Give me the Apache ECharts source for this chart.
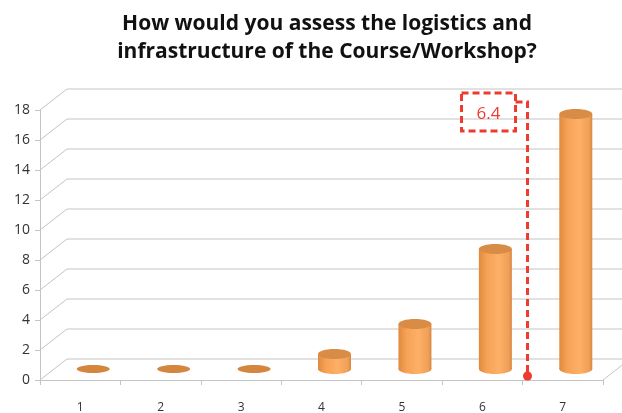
<!DOCTYPE html>
<html>
<head>
<meta charset="utf-8">
<script src="https://cdn.jsdelivr.net/npm/echarts@6/dist/echarts.min.js"></script>
<style>
  html, body { margin: 0; padding: 0; background: #ffffff; }
  #chart { width: 622px; height: 413px; }
</style>
</head>
<body>
<div id="chart"></div>
<script>
// Ratings 1..7 and how many responses each got
const categories = ['1', '2', '3', '4', '5', '6', '7'];
const counts = [0, 0, 0, 1, 3, 8, 17];
const yTicks = [0, 2, 4, 6, 8, 10, 12, 14, 16, 18];
const meanScore = 6.4;

// depth of the 3D box (back wall offset) and of the bar plane
const BACK = { dx: 27, dy: -21 };
const MID = { dx: 13, dy: -11 };
const BAR_W = 33;
const RY = 5;
const WALL = '#c4c4c4';
const RED = '#ee3b2f';

const chart = echarts.init(document.getElementById('chart'), null, { renderer: 'canvas' });

function frameItem(params, api) {
  const v = api.value(1);
  const cs = params.coordSys;
  const p = api.coord([0, v]);
  const x0 = cs.x;
  const y = p[1];
  const children = [{
    type: 'polyline',
    shape: { points: [[x0, y], [x0 + BACK.dx, y + BACK.dy], [cs.x + cs.width + BACK.dx + 20, y + BACK.dy]] },
    style: { stroke: WALL, lineWidth: 1, fill: null }
  }];
  if (v === 0) {
    children.push({
      type: 'line',
      shape: { x1: cs.x + cs.width, y1: y, x2: cs.x + cs.width + BACK.dx, y2: y + BACK.dy },
      style: { stroke: WALL, lineWidth: 1 }
    });
  }
  return { type: 'group', children };
}

function barItem(params, api) {
  const i = api.value(0);
  const v = api.value(1);
  const top = api.coord([i, v]);
  const base = api.coord([i, 0]);
  const cx = base[0] + MID.dx;
  const yb = base[1] + MID.dy;
  const yt = top[1] + MID.dy;
  const rx = BAR_W / 2;
  if (v === 0) {
    return {
      type: 'ellipse',
      shape: { cx: cx, cy: yb, rx: rx, ry: RY - 1 },
      style: { fill: '#d4863f' }
    };
  }
  const bodyFill = new echarts.graphic.LinearGradient(0, 0, 1, 0, [
    { offset: 0, color: '#e08a3e' },
    { offset: 0.25, color: '#f6a257' },
    { offset: 0.6, color: '#fdb066' },
    { offset: 0.9, color: '#f0a058' },
    { offset: 1, color: '#d8873d' }
  ]);
  return {
    type: 'group',
    children: [
      {
        type: 'ellipse',
        shape: { cx: cx, cy: yb, rx: rx, ry: RY },
        style: { fill: bodyFill }
      },
      {
        type: 'rect',
        shape: { x: cx - rx, y: yt, width: BAR_W, height: yb - yt },
        style: { fill: bodyFill }
      },
      {
        type: 'ellipse',
        shape: { cx: cx, cy: yt, rx: rx, ry: RY },
        style: { fill: '#d98c46' }
      }
    ]
  };
}

// dashed marker for the average rating, placed between categories on the bar plane
function meanItem(params, api) {
  const idx = api.value(0) - 1;
  const lo = Math.floor(idx), hi = Math.ceil(idx);
  const a = api.coord([lo, 0]);
  const b = api.coord([hi, 0]);
  const x = a[0] + (b[0] - a[0]) * (idx - lo) + MID.dx;
  const yBottom = a[1] - 4;
  const yTop = api.coord([0, 18])[1] - 8;
  const boxW = 54, boxH = 38;
  const boxX = x - 12 - boxW;
  const boxY = yTop - 9;
  const dash = { lineDash: [7, 4], lineWidth: 3, stroke: RED, fill: null };
  return {
    type: 'group',
    children: [
      { type: 'polyline', shape: { points: [[boxX + boxW, yTop], [x, yTop], [x, yBottom]] }, style: dash },
      { type: 'rect', shape: { x: boxX, y: boxY, width: boxW, height: boxH }, style: dash },
      { type: 'circle', shape: { cx: x, cy: yBottom, r: 4.5 }, style: { fill: RED } },
      {
        type: 'text',
        style: {
          text: String(api.value(0)), x: boxX + boxW / 2, y: boxY + boxH / 2 + 2,
          align: 'center', verticalAlign: 'middle',
          fill: RED, font: '17px "Open Sans", sans-serif'
        }
      }
    ]
  };
}

chart.setOption({
  animation: false,
  backgroundColor: '#ffffff',
  title: {
    text: 'How would you assess the logistics and\ninfrastructure of the Course/Workshop?',
    left: 322, top: 5, textAlign: 'center',
    textStyle: { fontFamily: 'Open Sans', fontWeight: 'bold', fontSize: 21, lineHeight: 28, color: '#111' }
  },
  grid: { left: 40, right: 19, top: 110, bottom: 33, outerBoundsMode: 'none', containLabel: false },
  xAxis: {
    type: 'category',
    data: categories,
    axisLine: { lineStyle: { color: WALL, width: 1 } },
    axisTick: { show: true, length: 5, lineStyle: { color: WALL } },
    axisLabel: { color: '#333', fontFamily: 'Open Sans', fontSize: 12, margin: 22 },
    splitLine: { show: false }
  },
  yAxis: {
    type: 'value',
    min: 0, max: 18, interval: 2,
    axisLine: { show: true, lineStyle: { color: WALL, width: 1 } },
    axisTick: { show: true, length: 5, lineStyle: { color: WALL } },
    axisLabel: { color: '#333', fontFamily: 'Open Sans', fontSize: 14, margin: 10 },
    splitLine: { show: false }
  },
  series: [
    {
      type: 'custom', name: 'frame', silent: true, z: 1, clip: false,
      renderItem: frameItem,
      data: yTicks.map(v => [0, v])
    },
    {
      type: 'custom', name: 'responses', z: 3, clip: false,
      renderItem: barItem,
      data: counts.map((v, i) => [i, v])
    },
    {
      type: 'custom', name: 'mean', z: 4, clip: false, silent: true,
      renderItem: meanItem,
      data: [[meanScore, 0]]
    }
  ]
});
</script>
</body>
</html>
